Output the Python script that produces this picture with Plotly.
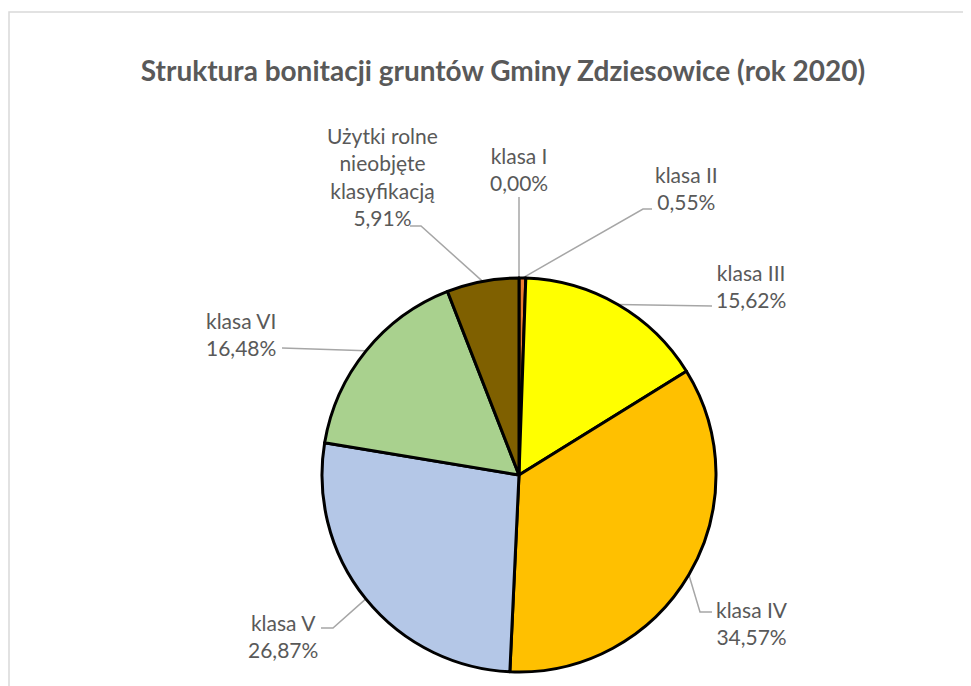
import math
import plotly.graph_objects as go

# ---- data ----
labels = ["klasa I", "klasa II", "klasa III", "klasa IV", "klasa V", "klasa VI",
          "Użytki rolne<br>nieobjęte<br>klasyfikacją"]
values = [0.00, 0.55, 15.62, 34.57, 26.87, 16.48, 5.91]
colors = ["#4472C4", "#ED7D31", "#FFFF00", "#FFC000", "#B4C7E7", "#A9D18E", "#7F6000"]
title_text = "Struktura bonitacji gruntów Gminy Zdziesowice (rok 2020)"

W, H = 971, 686
OFF = 8  # page body margin: screen px = plot px + OFF
CX, CY, R = 519, 475, 197
TXT = "#595959"
LINE = "#A6A6A6"
FONT = "Lato"
FS = 21

# label placement (layout, screen px): text anchor x, y, xanchor, leader start/elbow points
place = [
    dict(x=519, y=169, xa="center", pts=[(519, 197)]),
    dict(x=686, y=188, xa="center", pts=[(652, 209), (643, 209)]),
    dict(x=714, y=286, xa="left", pts=[(712, 306)]),
    dict(x=714, y=623, xa="left", pts=[(712, 612), (700, 612)]),
    dict(x=320, y=636, xa="right", pts=[(321, 628), (333, 628)]),
    dict(x=278, y=334, xa="right", pts=[(282, 348)]),
    dict(x=382, y=176, xa="center", pts=[(410, 226), (421, 226)]),
]

total = sum(values)
fig = go.Figure()

fig.add_trace(go.Pie(
    labels=[l.replace("<br>", " ") for l in labels], values=values,
    sort=False, direction="clockwise", rotation=0,
    marker=dict(colors=colors, line=dict(color="black", width=3)),
    textinfo="none", hoverinfo="label+percent", showlegend=False,
    domain=dict(x=[(CX - OFF - R) / W, (CX - OFF + R) / W],
                y=[(H - (CY - OFF) - R) / H, (H - (CY - OFF) + R) / H]),
))

annotations = []
cum = 0.0
for lab, v, p in zip(labels, values, place):
    mid = (cum + v / 2) / total * 2 * math.pi
    cum += v
    ax = CX + R * math.sin(mid)
    ay = CY - R * math.cos(mid)
    pts = p["pts"] + [(ax, ay)]
    fig.add_trace(go.Scatter(
        x=[q[0] for q in pts], y=[q[1] for q in pts], mode="lines",
        line=dict(color=LINE, width=1.5), hoverinfo="skip", showlegend=False,
        xaxis="x", yaxis="y"))
    pct = f"{v:.2f}".replace(".", ",") + "%"
    annotations.append(dict(
        x=p["x"], y=p["y"], xref="x", yref="y", text=f"{lab}<br>{pct}",
        showarrow=False, xanchor=p["xa"], yanchor="middle", align="center",
        font=dict(family=FONT, size=FS, color=TXT)))

fig.update_layout(
    width=W, height=H, autosize=False,
    margin=dict(l=0, r=0, t=0, b=0),
    paper_bgcolor="white", plot_bgcolor="rgba(0,0,0,0)",
    xaxis=dict(range=[OFF, W + OFF], visible=False, fixedrange=True, domain=[0, 1]),
    yaxis=dict(range=[H + OFF, OFF], visible=False, fixedrange=True, domain=[0, 1]),
    title=dict(text=f"<b>{title_text}</b>", x=(503 - OFF) / W, xanchor="center",
               y=1 - (71 - OFF) / H, yanchor="middle",
               font=dict(family=FONT, size=28, color=TXT)),
    annotations=annotations,
    shapes=[dict(type="rect", xref="x", yref="y", x0=9, y0=12, x1=W + 40, y1=H + 40,
                 line=dict(color="#D9D9D9", width=1.5), fillcolor="rgba(0,0,0,0)",
                 layer="below")],
)

fig.write_html("out.html")
